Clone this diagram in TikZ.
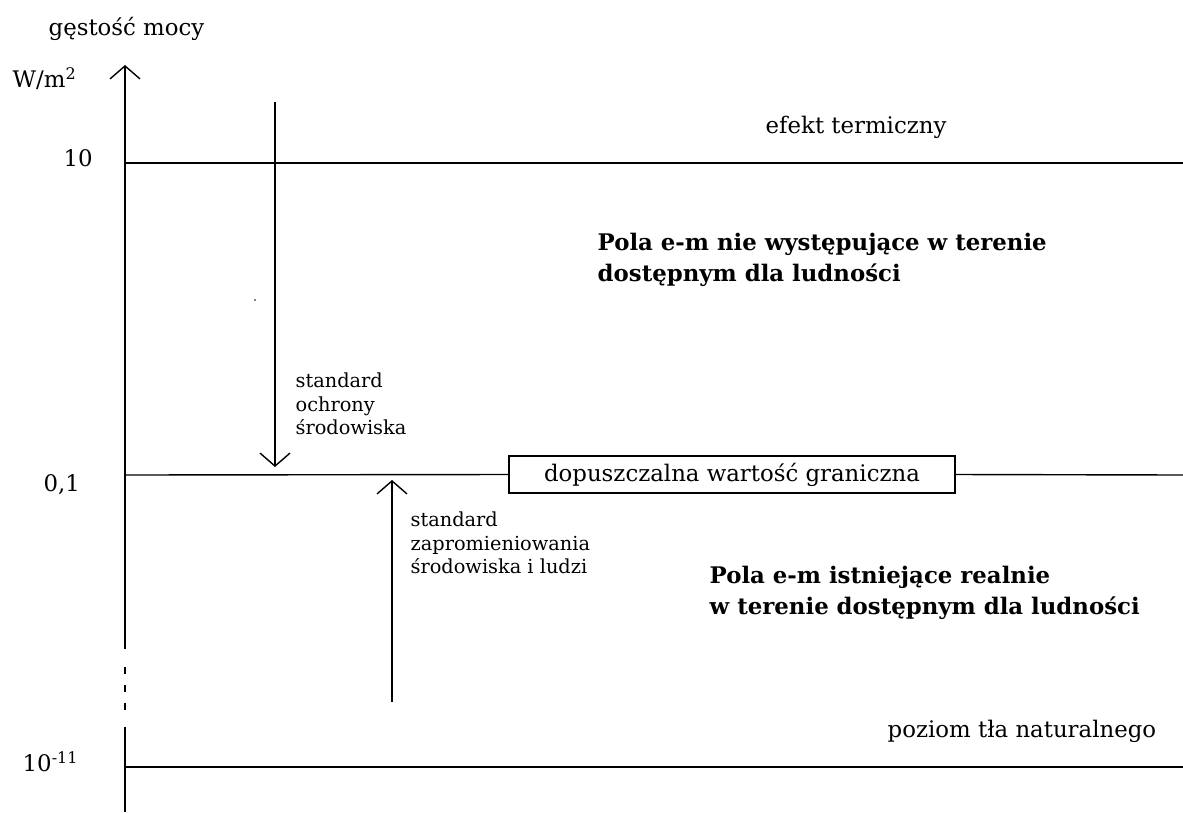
\documentclass[tikz,border=0pt]{standalone}
\usepackage{fontspec}
\setmainfont{DejaVu Serif}
\usepackage{tikz}
\usetikzlibrary{arrows.meta, positioning}

\begin{document}
\begin{tikzpicture}[x=0.02cm, y=-0.02cm, line width=0.8pt,
    barb/.style={-{Straight Barb[length=2.6mm, width=6mm]}},
    lbl/.style={inner sep=0pt, anchor=base west, font=\fontsize{13}{16}\selectfont},
    small/.style={inner sep=0pt, anchor=west, align=left,
                  font=\fontsize{11}{13.5}\selectfont},
    region/.style={inner sep=0pt, anchor=west, align=left,
                   font=\fontsize{13}{18}\selectfont\bfseries}]
    \useasboundingbox (0,0) rectangle (1183,812);
    % axis with a break
    \coordinate (axbot) at (125,812);
    \coordinate (brklo) at (125,727);
    \coordinate (dashlo) at (125,710);
    \coordinate (dashhi) at (125,667);
    \coordinate (brkhi) at (125,649);
    \coordinate (axtop) at (125,65);
    \draw (axbot) -- (brklo);
    \draw[dash pattern=on 0.14cm off 0.22cm] (dashhi) -- (dashlo);
    \draw[barb] (brkhi) -- (axtop);
    % levels
    \foreach \y/\lev in {163/ten, 475/tenth, 767/bg} {
      \coordinate (\lev w) at (125,\y);
      \coordinate (\lev e) at (1183,\y);
    }
    \node[draw, inner sep=0pt, minimum width=8.92cm, minimum height=0.74cm,
          font=\fontsize{13}{16}\selectfont] (limit) at (732,474.5)
      {dopuszczalna wartość graniczna};
    \draw (tenw) -- (tene);
    \draw (tenthw) -- (limit.west);
    \draw (limit.east) -- (tenthe);
    \draw (bgw) -- (bge);
    % standards
    \coordinate (ochtop) at (275,102);
    \coordinate (ochtip) at (275,467);
    \coordinate (zapbot) at (392,702);
    \coordinate (zaptip) at (392,480);
    \draw[barb] (ochtop) -- (ochtip);
    \draw[barb] (zapbot) -- (zaptip);
    \fill (255,300) circle (0.5pt);
    % labels
    \node[lbl] (ylabel) at (48,35) {gęstość mocy};
    \node[lbl] (unit) at (12,87) {W/m\textsuperscript{2}};
    \node[lbl] (v10) at (63,166) {10};
    \node[lbl] (v01) at (43,491) {0,1};
    \node[lbl] (v1011) at (22,771) {10\textsuperscript{-11}};
    \node[lbl] (thermal) at (765,133) {efekt termiczny};
    \node[lbl] (natural) at (887,737) {poziom tła naturalnego};
    \node[small] (ochrona) at (295,404) {standard\\ochrony\\środowiska};
    \node[small] (zaprom) at (410,543) {standard\\zapromieniowania\\środowiska i ludzi};
    \node[region] (above) at (597,260)
      {Pola e-m nie występujące w terenie\\dostępnym dla ludności};
    \node[region] (below) at (709,593)
      {Pola e-m istniejące realnie\\w terenie dostępnym dla ludności};
\end{tikzpicture}
\end{document}
